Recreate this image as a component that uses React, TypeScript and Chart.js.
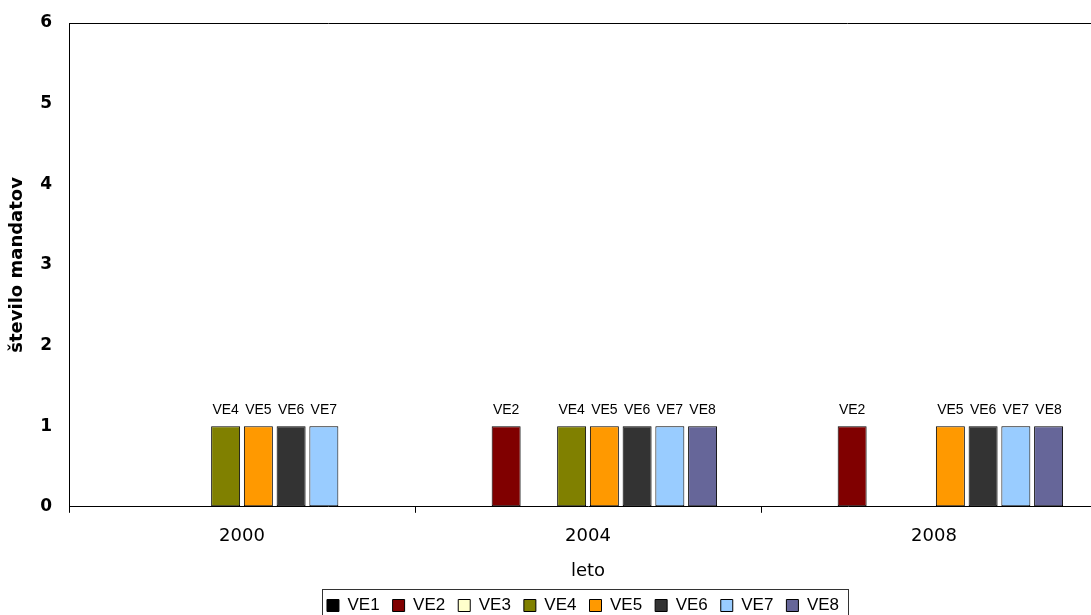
import { useEffect, useRef } from 'react';
import { Chart, registerables } from 'chart.js';

Chart.register(...registerables);

const categories = ['2000', '2004', '2008'];
const seriesNames = ['VE1', 'VE2', 'VE3', 'VE4', 'VE5', 'VE6', 'VE7', 'VE8'];
const ve1 = [0, 0, 0];
const ve2 = [0, 1, 1];
const ve3 = [0, 0, 0];
const ve4 = [1, 1, 0];
const ve5 = [1, 1, 1];
const ve6 = [1, 1, 1];
const ve7 = [1, 1, 1];
const ve8 = [0, 1, 1];
const seriesValues = [ve1, ve2, ve3, ve4, ve5, ve6, ve7, ve8];
const seriesColors = ['#000000', '#800000', '#FFFFCC', '#808000', '#FF9900', '#333333', '#99CCFF', '#666699'];
const yTicks = [0, 1, 2, 3, 4, 5, 6];
const yTitle = 'število mandatov';
const xTitle = 'leto';

const CANVAS_W = 1107;
const CANVAS_H = 624;

const barLabelPlugin = {
  id: 'barLabels',
  afterDatasetsDraw(chart: any) {
    const ctx = chart.ctx;
    ctx.save();
    ctx.font = '14px "Liberation Sans", Arial, sans-serif';
    ctx.fillStyle = '#000';
    ctx.textAlign = 'center';
    ctx.textBaseline = 'middle';
    chart.data.datasets.forEach((ds: any, i: number) => {
      const meta = chart.getDatasetMeta(i);
      meta.data.forEach((bar: any, j: number) => {
        const v = ds.data[j];
        if (v > 0) ctx.fillText(ds.label, bar.x, bar.y - 16);
      });
    });
    ctx.restore();
  },
};

const frameLegendPlugin = {
  id: 'frameLegend',
  afterLayout(chart: any) {
    const lg = chart.legend;
    if (lg) {
      lg.left -= 5;
      lg.right -= 5;
    }
  },
  afterDraw(chart: any) {
    const ctx = chart.ctx;
    const a = chart.chartArea;
    ctx.save();
    ctx.strokeStyle = '#000';
    ctx.lineWidth = 1;
    ctx.beginPath();
    ctx.moveTo(a.left, Math.round(a.top) + 0.5);
    ctx.lineTo(a.right, Math.round(a.top) + 0.5);
    ctx.stroke();
    const lg = chart.legend;
    if (lg && lg.legendHitBoxes && lg.legendHitBoxes.length) {
      const hb = lg.legendHitBoxes;
      let l = Infinity, r = -Infinity, t = Infinity, b = -Infinity;
      hb.forEach((h: any) => {
        l = Math.min(l, h.left);
        r = Math.max(r, h.left + h.width);
        t = Math.min(t, h.top);
        b = Math.max(b, h.top + h.height);
      });
      ctx.strokeStyle = '#333';
      ctx.strokeRect(Math.round(l - 5) + 0.5, Math.round(t - 8) + 0.5, Math.round(r - l + 14), Math.round(b - t + 16));
    }
    ctx.restore();
  },
};

export default function App() {
  const ref = useRef<HTMLCanvasElement | null>(null);
  useEffect(() => {
    if (!ref.current) return;
    const chart = new Chart(ref.current, {
      type: 'bar',
      data: {
        labels: categories,
        datasets: seriesNames.map((name, i) => ({
          label: name,
          data: seriesValues[i],
          backgroundColor: seriesColors[i],
          borderColor: '#000000',
          borderWidth: 1,
          borderSkipped: false,
        })),
      },
      options: {
        responsive: false,
        animation: false,
        layout: { padding: { top: 23, left: 0, right: 0, bottom: 0 } },
        datasets: { bar: { categoryPercentage: 0.757, barPercentage: 0.885 } },
        plugins: {
          legend: {
            position: 'bottom',
            fullSize: false,
            labels: {
              boxWidth: 12,
              boxHeight: 12,
              padding: 13,
              color: '#000',
              font: { family: '"Liberation Sans", Arial, sans-serif', size: 17 },
            },
          },
          tooltip: { enabled: false },
        },
        scales: {
          x: {
            grid: { display: true, drawOnChartArea: false, drawTicks: true, tickLength: 6, color: '#000', offset: true },
            border: { display: true, color: '#000', width: 1 },
            ticks: { padding: 13, color: '#000', font: { family: '"DejaVu Sans", Verdana, sans-serif', size: 18 } },
            title: {
              display: true,
              text: xTitle,
              color: '#000',
              font: { family: '"DejaVu Sans", Verdana, sans-serif', size: 18 },
              padding: { top: 0, bottom: 2 },
            },
          },
          y: {
            min: yTicks[0],
            max: yTicks[yTicks.length - 1],
            afterFit: (s: any) => {
              s.width = 69;
            },
            grid: { display: true, drawOnChartArea: false, drawTicks: true, tickLength: 14, color: 'rgba(0,0,0,0)' },
            border: { display: true, color: '#000', width: 1 },
            ticks: {
              stepSize: 1,
              padding: 3,
              color: '#000',
              font: { family: '"DejaVu Sans", Verdana, sans-serif', size: 17, weight: 'bold' },
            },
            title: {
              display: true,
              text: yTitle,
              color: '#000',
              font: { family: '"DejaVu Sans", Verdana, sans-serif', size: 18, weight: 'bold' },
              padding: { top: 7, bottom: 0 },
            },
          },
        },
      } as any,
      plugins: [barLabelPlugin, frameLegendPlugin],
    });
    return () => chart.destroy();
  }, []);

  return (
    <div style={{ position: 'fixed', left: 0, top: 0, width: CANVAS_W, height: CANVAS_H, overflow: 'hidden', background: '#fff' }}>
      <canvas ref={ref} width={CANVAS_W} height={CANVAS_H} style={{ display: 'block', width: CANVAS_W, height: CANVAS_H }} />
    </div>
  );
}
